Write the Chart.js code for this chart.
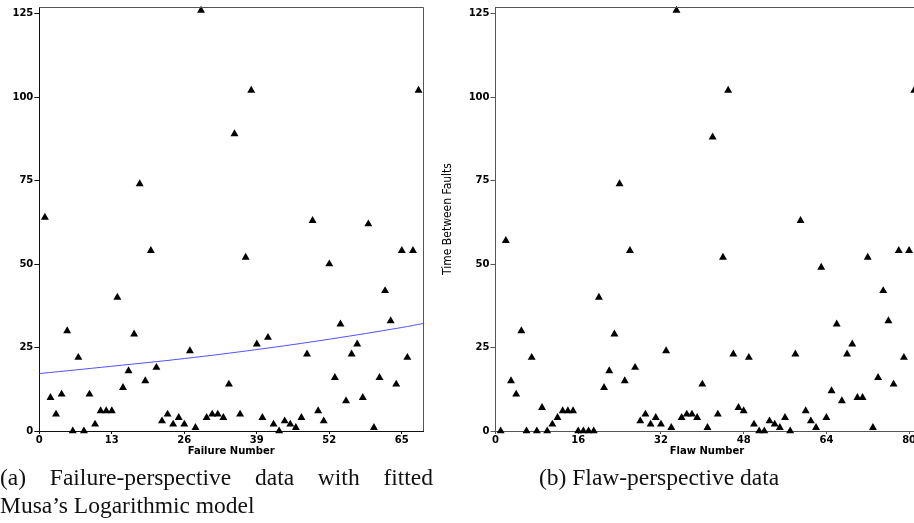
<!DOCTYPE html>
<html>
<head>
<meta charset="utf-8">
<script src="https://cdn.jsdelivr.net/npm/chart.js@4.4.1/dist/chart.umd.min.js"></script>
<style>
  html, body { margin: 0; padding: 0; background: #fff; }
  body { width: 914px; height: 523px; overflow: hidden; position: relative; }
  .box { position: absolute; top: 0; height: 465px; }
  #failBox { left: 0; width: 430px; }
  #flawBox { left: 430px; width: 500px; }
  .cap { position: absolute; font-family: 'Liberation Serif', serif; font-size: 23.5px; color: #111; line-height: 28px; white-space: nowrap; }
  #capA1 { left: 0; top: 463px; width: 433px; text-align: justify; text-align-last: justify; }
  #capA2 { left: 0; top: 491px; }
  #capB { left: 539px; top: 463px; }
</style>
</head>
<body>
<div class="box" id="failBox"><canvas id="failChart"></canvas></div>
<div class="box" id="flawBox"><canvas id="flawChart"></canvas></div>
<div class="cap" id="capA1" style="white-space: normal;">(a) Failure-perspective data with fitted</div>
<div class="cap" id="capA2">Musa’s Logarithmic model</div>
<div class="cap" id="capB">(b) Flaw-perspective data</div>
<script>
// time between faults, failure perspective (failure 1..68)
const failTimes = [64, 10, 5, 11, 30, 0, 22, 0, 11, 2, 6, 6, 6, 40, 13, 18, 29, 74, 15, 54,
  19, 3, 5, 2, 4, 2, 24, 1, 126, 4, 5, 5, 4, 14, 89, 5, 52, 102, 26, 4,
  28, 2, 0, 3, 2, 1, 4, 23, 63, 6, 3, 50, 16, 32, 9, 23, 26, 10, 62, 1,
  16, 42, 33, 14, 54, 22, 54, 102];

// time between faults, flaw perspective (flaw 1..81)
const flawTimes = [0, 57, 15, 11, 30, 0, 22, 0, 7, 0, 2, 4, 6, 6, 6, 0, 0, 0, 0, 40,
  13, 18, 29, 74, 15, 54, 19, 3, 5, 2, 4, 2, 24, 1, 126, 4, 5, 5, 4, 14,
  1, 88, 5, 52, 102, 23, 7, 6, 22, 2, 0, 0, 3, 2, 1, 4, 0, 23, 63, 6,
  3, 1, 49, 4, 12, 32, 9, 23, 26, 10, 10, 52, 1, 16, 42, 33, 14, 54, 22, 54,
  102];

// fitted Musa logarithmic model
const fitX = [0, 13, 26, 39, 52, 65, 68.8];
const fitY = [17.2, 19.4, 21.7, 24.4, 27.5, 31.0, 32.2];

const yTicks = [0, 25, 50, 75, 100, 125];
const failTicks = [0, 13, 26, 39, 52, 65];
const flawTicks = [0, 16, 32, 48, 64, 80];

const tickFont = { family: "'DejaVu Sans', sans-serif", size: 10, weight: 'bold' };

// top and right frame lines
const framePlugin = {
  id: 'frame',
  afterDraw(chart, args, opts) {
    const a = chart.chartArea;
    const ctx = chart.ctx;
    ctx.save();
    ctx.strokeStyle = opts.color;
    ctx.lineWidth = 1;
    ctx.beginPath();
    ctx.moveTo(a.left, a.top + 0.5);
    ctx.lineTo(a.right + 0.5, a.top + 0.5);
    ctx.lineTo(a.right + 0.5, a.bottom);
    ctx.stroke();
    ctx.restore();
  }
};

function makeOptions(xMax, xTickList, xTitle, yWidth, axisColor, yTitle, padRight) {
  return {
    responsive: true,
    maintainAspectRatio: false,
    animation: false,
    events: [],
    layout: { padding: { top: 4, right: padRight, left: 0, bottom: 0 } },
    plugins: {
      legend: { display: false },
      tooltip: { enabled: false },
      frame: { color: '#555' }
    },
    scales: {
      x: {
        type: 'linear',
        min: 0,
        max: xMax,
        afterBuildTicks: (s) => { s.ticks = xTickList.map(v => ({ value: v })); },
        afterFit: (s) => { s.height = 34; },
        grid: { drawOnChartArea: false, drawTicks: true, tickLength: 3, color: axisColor },
        border: { color: axisColor, width: 1 },
        ticks: { font: tickFont, color: '#000', padding: 0, maxRotation: 0, autoSkip: false },
        title: {
          display: true,
          text: xTitle,
          color: '#000',
          font: { family: "'DejaVu Sans', sans-serif", size: 10, weight: 'bold' },
          padding: { top: 0, bottom: 8 }
        }
      },
      y: {
        min: 0,
        max: 127,
        afterBuildTicks: (s) => { s.ticks = yTicks.map(v => ({ value: v })); },
        afterFit: (s) => { s.width = yWidth; },
        grid: { drawOnChartArea: false, drawTicks: true, tickLength: 5, color: axisColor },
        border: { color: axisColor, width: 1 },
        ticks: { font: tickFont, color: '#000', padding: 1 },
        title: {
          display: !!yTitle,
          text: yTitle || '',
          color: '#000',
          font: { family: "'Liberation Sans Narrow', 'DejaVu Sans Condensed', sans-serif", size: 12 },
          padding: { top: 11, bottom: 0 }
        }
      }
    }
  };
}

const pointStyle = {
  pointStyle: 'triangle',
  pointRadius: 4.6,
  backgroundColor: '#000',
  borderColor: '#000',
  borderWidth: 0,
  showLine: false,
  clip: false
};

new Chart(document.getElementById('failChart'), {
  type: 'scatter',
  data: {
    datasets: [
      Object.assign({ label: 'Failure', data: failTimes.map((v, i) => ({ x: i + 1, y: v })) }, pointStyle),
      {
        type: 'line',
        label: 'Musa Logarithmic',
        data: fitX.map((x, i) => ({ x: x, y: fitY[i] })),
        borderColor: '#5050ff',
        borderWidth: 1,
        pointRadius: 0,
        tension: 0.4,
        fill: false
      }
    ]
  },
  options: makeOptions(68.8, failTicks, 'Failure Number', 39.3, '#111', null, 7),
  plugins: [framePlugin]
});

new Chart(document.getElementById('flawChart'), {
  type: 'scatter',
  data: {
    datasets: [
      Object.assign({ label: 'Flaw', data: flawTimes.map((v, i) => ({ x: i + 1, y: v })) }, pointStyle)
    ]
  },
  options: makeOptions(81.8, flawTicks, 'Flaw Number', 65.5, '#555', 'Time Between Faults', 11.6),
  plugins: [framePlugin]
});
</script>
</body>
</html>
